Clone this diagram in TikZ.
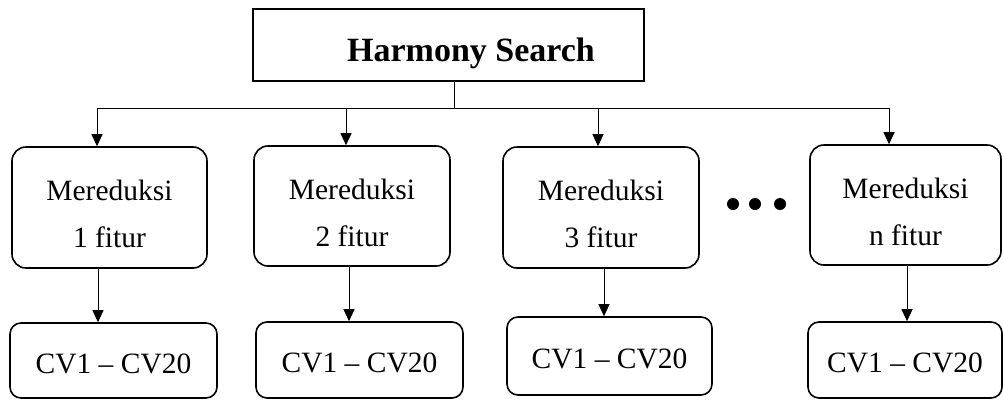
\documentclass[tikz,border=0pt]{standalone}
\usepackage{fontspec}
\setmainfont{Liberation Serif}
\usetikzlibrary{arrows.meta}
\newcommand{\upgap}{\rule{0pt}{34pt}}
\begin{document}
\begin{tikzpicture}[x=1pt,y=-1pt,
  topbox/.style={draw, line width=1.8pt, minimum width=391pt, minimum height=72pt, inner sep=0pt,
    font=\fontsize{34}{40}\selectfont\bfseries, execute at begin node={\rule{0pt}{41pt}}},
  redbox/.style={draw, line width=1.6pt, rounded corners=14pt, inner sep=0pt, align=center,
    font=\fontsize{29.5}{47}\selectfont},
  cvbox/.style={draw, line width=1.6pt, rounded corners=11pt, inner sep=0pt,
    font=\fontsize{29.5}{35}\selectfont, execute at begin node={\rule{0pt}{26pt}}},
  conn/.style={line width=1pt},
  arr/.style={line width=1pt, -{Triangle[length=12pt, width=11pt]}}]
\useasboundingbox (0,0) rectangle (1003,400);

\node[topbox] (hs) at (448.5,45) {\hspace*{45pt}Harmony Search};

\node[redbox, minimum width=195pt, minimum height=121pt] (m1) at (109.5,207.5) {\upgap Mereduksi\\1 fitur};
\node[redbox, minimum width=196pt, minimum height=120pt] (m2) at (352,206) {\upgap Mereduksi\\2 fitur};
\node[redbox, minimum width=196pt, minimum height=121pt] (m3) at (601,207.5) {\upgap Mereduksi\\3 fitur};
\node[redbox, minimum width=191pt, minimum height=120pt] (m4) at (905.5,205) {\upgap Mereduksi\\n fitur};

\node[cvbox, minimum width=207pt, minimum height=75pt] (c1) at (113.5,360.5) {CV1 -- CV20};
\node[cvbox, minimum width=207pt, minimum height=76pt] (c2) at (359.5,360) {CV1 -- CV20};
\node[cvbox, minimum width=205pt, minimum height=78pt] (c3) at (609.5,356) {CV1 -- CV20};
\node[cvbox, minimum width=194pt, minimum height=76pt] (c4) at (905,360) {CV1 -- CV20};

\fill (733,204) circle (6pt);
\fill (755,204) circle (6pt);
\fill (780,204) circle (6pt);

\coordinate (j) at (454,108);
\coordinate (h1) at (97,108);
\coordinate (h2) at (346,108);
\coordinate (h3) at (598,108);
\coordinate (h4) at (889,108);

\draw[conn] (hs.south -| j) -- (j);
\draw[conn] (h1) -- (h4);
\draw[arr] (h1) -- (h1 |- m1.north);
\draw[arr] (h2) -- (h2 |- m2.north);
\draw[arr] (h3) -- (h3 |- m3.north);
\draw[arr] (h4) -- (h4 |- m4.north);

\coordinate (v1) at (98,0);
\coordinate (v2) at (349,0);
\coordinate (v3) at (604,0);
\coordinate (v4) at (907,0);
\draw[arr] (v1 |- m1.south) -- (v1 |- c1.north);
\draw[arr] (v2 |- m2.south) -- (v2 |- c2.north);
\draw[arr] (v3 |- m3.south) -- (v3 |- c3.north);
\draw[arr] (v4 |- m4.south) -- (v4 |- c4.north);
\end{tikzpicture}
\end{document}
